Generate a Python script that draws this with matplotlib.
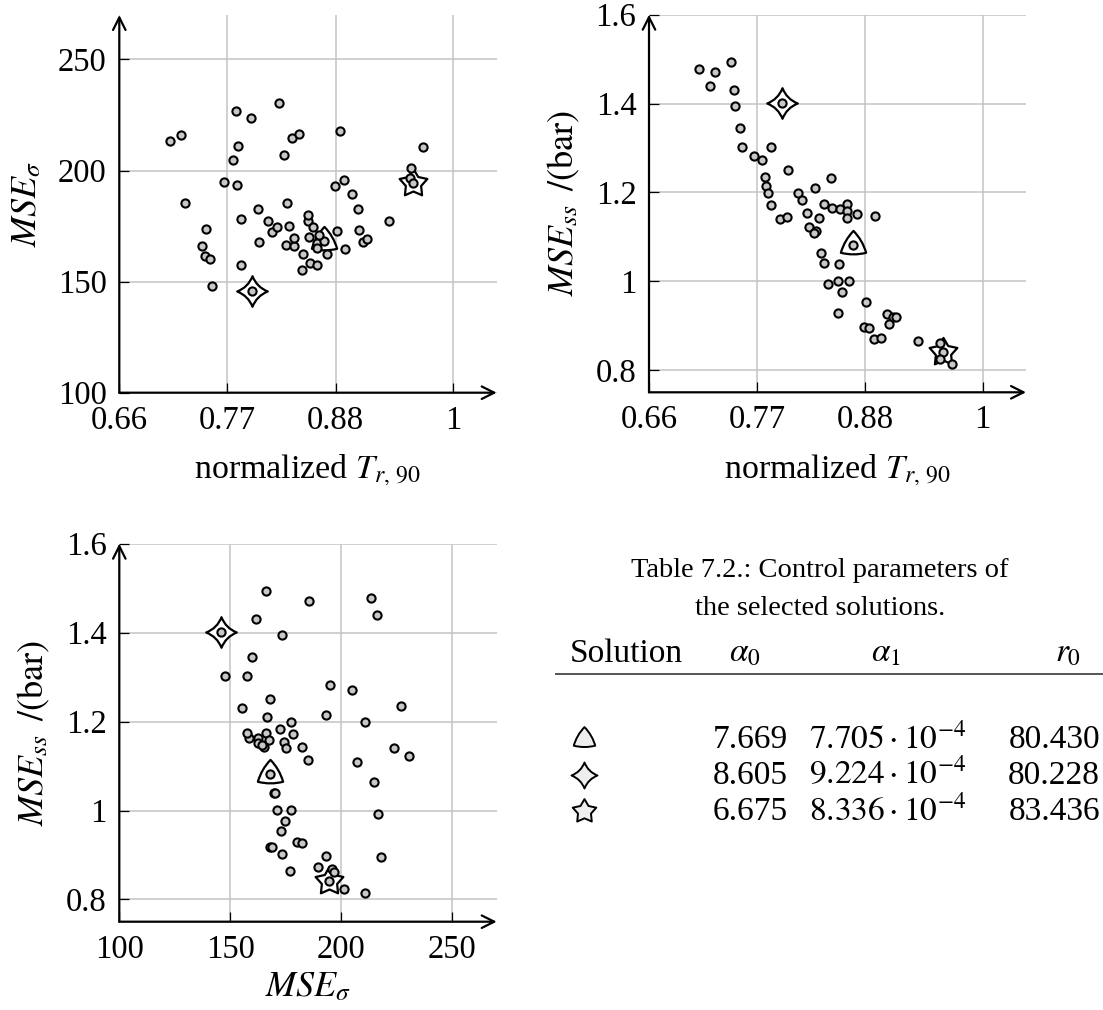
import numpy as np
import matplotlib.pyplot as plt
from matplotlib.path import Path

plt.rcParams['font.family'] = ['Liberation Serif', 'DejaVu Serif']
plt.rcParams['mathtext.fontset'] = 'stix'
plt.rcParams['font.size'] = 23

# Pareto front points: normalized rise time, stress MSE and steady-state MSE
t_norm = [0.7113, 0.7272, 0.7225, 0.7439, 0.7469, 0.7479, 0.7523, 0.7547, 0.7666, 0.7754,
          0.7843, 0.7951, 0.7785, 0.7795, 0.7809, 0.7843, 0.8019, 0.7938, 0.8009, 0.8114,
          0.8158, 0.8294, 0.8206, 0.8230, 0.8304, 0.8280, 0.8328, 0.8379, 0.8457, 0.8467,
          0.8545, 0.8613, 0.8613, 0.8613, 0.8718, 0.8898, 0.8678, 0.8355, 0.8379, 0.8535,
          0.8427, 0.8525, 0.8634, 0.8569, 0.8525, 0.8810, 0.8790, 0.8844, 0.8888, 0.8966,
          0.9027, 0.9082, 0.9119, 0.9041, 0.9340, 0.9560, 0.9592, 0.9567, 0.9689]
mse_sigma = [213.3, 185.3, 215.9, 166.0, 161.7, 173.5, 160.0, 147.8, 194.8, 204.6,
             157.6, 145.8, 226.8, 193.3, 210.9, 178.2, 167.7, 223.8, 182.5, 177.4,
             172.5, 166.6, 174.4, 230.5, 185.2, 207.2, 175.0, 165.9, 155.4, 162.3,
             158.4, 157.5, 167.5, 165.3, 162.6, 164.5, 168.1, 214.6, 169.5, 170.3,
             216.5, 177.2, 171.0, 174.5, 180.2, 173.0, 193.0, 217.7, 195.8, 189.4,
             182.5, 167.8, 169.0, 173.2, 177.1, 196.7, 194.6, 201.0, 210.7]
mse_ss = [1.478, 1.4705, 1.4405, 1.4938, 1.4315, 1.394, 1.346, 1.3025, 1.283, 1.2718,
          1.3018, 1.4023, 1.235, 1.2155, 1.199, 1.1713, 1.25, 1.1405, 1.1435, 1.199,
          1.184, 1.211, 1.1533, 1.1225, 1.1135, 1.109, 1.1413, 1.175, 1.2313, 1.164,
          1.1623, 1.175, 1.1578, 1.142, 1.1518, 1.1465, 1.0813, 1.0633, 1.04, 1.0393,
          0.993, 1.001, 1.001, 0.9763, 0.929, 0.9538, 0.8968, 0.8955, 0.869, 0.872,
          0.926, 0.9185, 0.9185, 0.903, 0.865, 0.861, 0.841, 0.824, 0.8135]

# selected solutions (index into the arrays above)
sel_names = ['triangle', 'diamond', 'star']
sel_idx = [36, 11, 56]

# control parameters of the selected solutions
alpha0 = ['7.669', '8.605', '6.675']
alpha1 = ['7.705', '9.224', '8.336']
r0 = ['80.430', '80.228', '83.436']


def diamond_path(c=0.28):
    verts = [(0, 1), (c, c), (1, 0), (c, -c), (0, -1), (-c, -c), (-1, 0), (-c, c), (0, 1), (0, 1)]
    codes = [Path.MOVETO] + [Path.CURVE3] * 8 + [Path.CLOSEPOLY]
    return Path(verts, codes)


def triangle_path(bulge=0.22):
    ang = np.deg2rad([90, 210, 330])
    pts = [(np.cos(a), np.sin(a)) for a in ang]
    verts = [pts[0]]
    codes = [Path.MOVETO]
    for k in range(3):
        p, q = np.array(pts[k]), np.array(pts[(k + 1) % 3])
        m = (p + q) / 2
        ctrl = m / np.linalg.norm(m) * (np.linalg.norm(m) + bulge)
        verts += [tuple(ctrl), tuple(q)]
        codes += [Path.CURVE3, Path.CURVE3]
    verts.append(pts[0])
    codes.append(Path.CLOSEPOLY)
    return Path(verts, codes)


def star_path(inner=0.55):
    verts = []
    for k in range(10):
        a = np.deg2rad(90 + 36 * k)
        r = 1.0 if k % 2 == 0 else inner
        verts.append((r * np.cos(a), r * np.sin(a)))
    verts.append(verts[0])
    codes = [Path.MOVETO] + [Path.LINETO] * 9 + [Path.CLOSEPOLY]
    return Path(verts, codes)


markers = {'triangle': (triangle_path(), 21), 'diamond': (diamond_path(), 22),
           'star': (star_path(), 21)}

W, H = 1103, 1010
fig = plt.figure(figsize=(W / 100, H / 100), dpi=100)


def add_axes_px(x0, y_top, w, h):
    return fig.add_axes([x0 / W, 1 - (y_top + h) / H, w / W, h / H])


def style_axis(ax, xlim, ylim, xticks, xlabels, yticks, ylabels):
    ax.set_xlim(*xlim)
    ax.set_ylim(*ylim)
    ax.set_xticks(xticks)
    ax.set_xticklabels(xlabels)
    ax.set_yticks(yticks)
    ax.set_yticklabels(ylabels)
    ax.grid(True, color='#c4c4c4', lw=1.1)
    ax.set_axisbelow(True)
    for s in ax.spines.values():
        s.set_visible(False)
    ax.tick_params(direction='in', length=7, width=0.9, pad=9, labelsize=23.5)
    arrow = dict(arrowstyle='->, head_length=0.9, head_width=0.45', lw=1.6, color='black',
                 shrinkA=0, shrinkB=0, mutation_scale=10)
    ax.annotate('', xy=(1.0, 0), xytext=(0, 0), xycoords='axes fraction', arrowprops=arrow)
    ax.annotate('', xy=(0, 1.0), xytext=(0, 0), xycoords='axes fraction', arrowprops=arrow)


def scatter(ax, x, y):
    x = np.asarray(x)
    y = np.asarray(y)
    for name, i in zip(sel_names, sel_idx):
        path, ms = markers[name]
        ax.plot(x[i], y[i], ls='none', marker=path, ms=ms, mfc='white', mec='black',
                mew=1.6, zorder=3, clip_on=False)
    ax.plot(x, y, ls='none', marker='o', ms=5.9, mfc='#c8c8c8', mec='black', mew=1.5,
            zorder=4, clip_on=False)


t_ticks = [0.66, 0.77, 0.88, 1.0]
t_labels = ['0.66', '0.77', '0.88', '1']
ss_ticks = [0.8, 1.0, 1.2, 1.4, 1.6]
ss_labels = ['0.8', '1', '1.2', '1.4', '1.6']
sig_ticks = [100, 150, 200, 250]
sig_labels = ['100', '150', '200', '250']

ss_label = r'$MSE_{ss}\ \,/(\mathrm{bar})$'

# top left: stress error vs. rise time
ax1 = add_axes_px(119.3, 15, 377.4, 377.7)
style_axis(ax1, (0.66, 1.044), (100, 270), t_ticks, t_labels, sig_ticks, sig_labels)
scatter(ax1, t_norm, mse_sigma)
ax1.set_xlabel(r'normalized $T_{r,\,90}$', labelpad=12, fontsize=24.5)
ax1.set_ylabel(r'$MSE_{\sigma}$', labelpad=10, fontsize=26)

# top right: steady-state error vs. rise time
ax2 = add_axes_px(649, 14.7, 377, 377.6)
style_axis(ax2, (0.66, 1.044), (0.75, 1.6), t_ticks, t_labels, ss_ticks, ss_labels)
scatter(ax2, t_norm, mse_ss)
ax2.set_xlabel(r'normalized $T_{r,\,90}$', labelpad=12, fontsize=24.5)
ax2.set_ylabel(ss_label, labelpad=10, fontsize=26)

# bottom left: steady-state error vs. stress error
ax3 = add_axes_px(119.3, 543.7, 377.4, 378)
style_axis(ax3, (100, 270), (0.75, 1.6), sig_ticks, sig_labels, ss_ticks, ss_labels)
scatter(ax3, mse_sigma, mse_ss)
ax3.set_xlabel(r'$MSE_{\sigma}$', labelpad=5, fontsize=26)
ax3.set_ylabel(ss_label, labelpad=10, fontsize=26)

# table with the control parameters, in pixel coordinates
axt = fig.add_axes([0, 0, 1, 1], zorder=-1)
axt.set_xlim(0, W)
axt.set_ylim(H, 0)
axt.axis('off')

axt.text(820, 577, 'Table 7.2.: Control parameters of', ha='center', va='baseline', fontsize=20.5)
axt.text(820, 615, 'the selected solutions.', ha='center', va='baseline', fontsize=20.5)
head_y = 662
axt.text(570, head_y, 'Solution', ha='left', va='baseline', fontsize=24)
axt.text(745, head_y, r'$\alpha_0$', ha='center', va='baseline', fontsize=24)
axt.text(886, head_y, r'$\alpha_1$', ha='center', va='baseline', fontsize=24)
axt.text(1068, head_y, r'$r_0$', ha='center', va='baseline', fontsize=24)
axt.plot([556, 1103], [674, 674], color='#555555', lw=1.4)

row_y = [748, 784, 820]
for k, name in enumerate(sel_names):
    y = row_y[k]
    path, ms = markers[name]
    axt.plot(584, y - 9, marker=path, ms=ms * 0.85, mfc='#eeeeee', mec='black', mew=1.4)
    axt.text(750, y, alpha0[k], ha='center', va='baseline', fontsize=24)
    axt.text(888, y, r'$%s\cdot10^{-4}$' % alpha1[k], ha='center', va='baseline', fontsize=24)
    axt.text(1100, y, r0[k], ha='right', va='baseline', fontsize=24)

fig.savefig('out.png', dpi=100)
